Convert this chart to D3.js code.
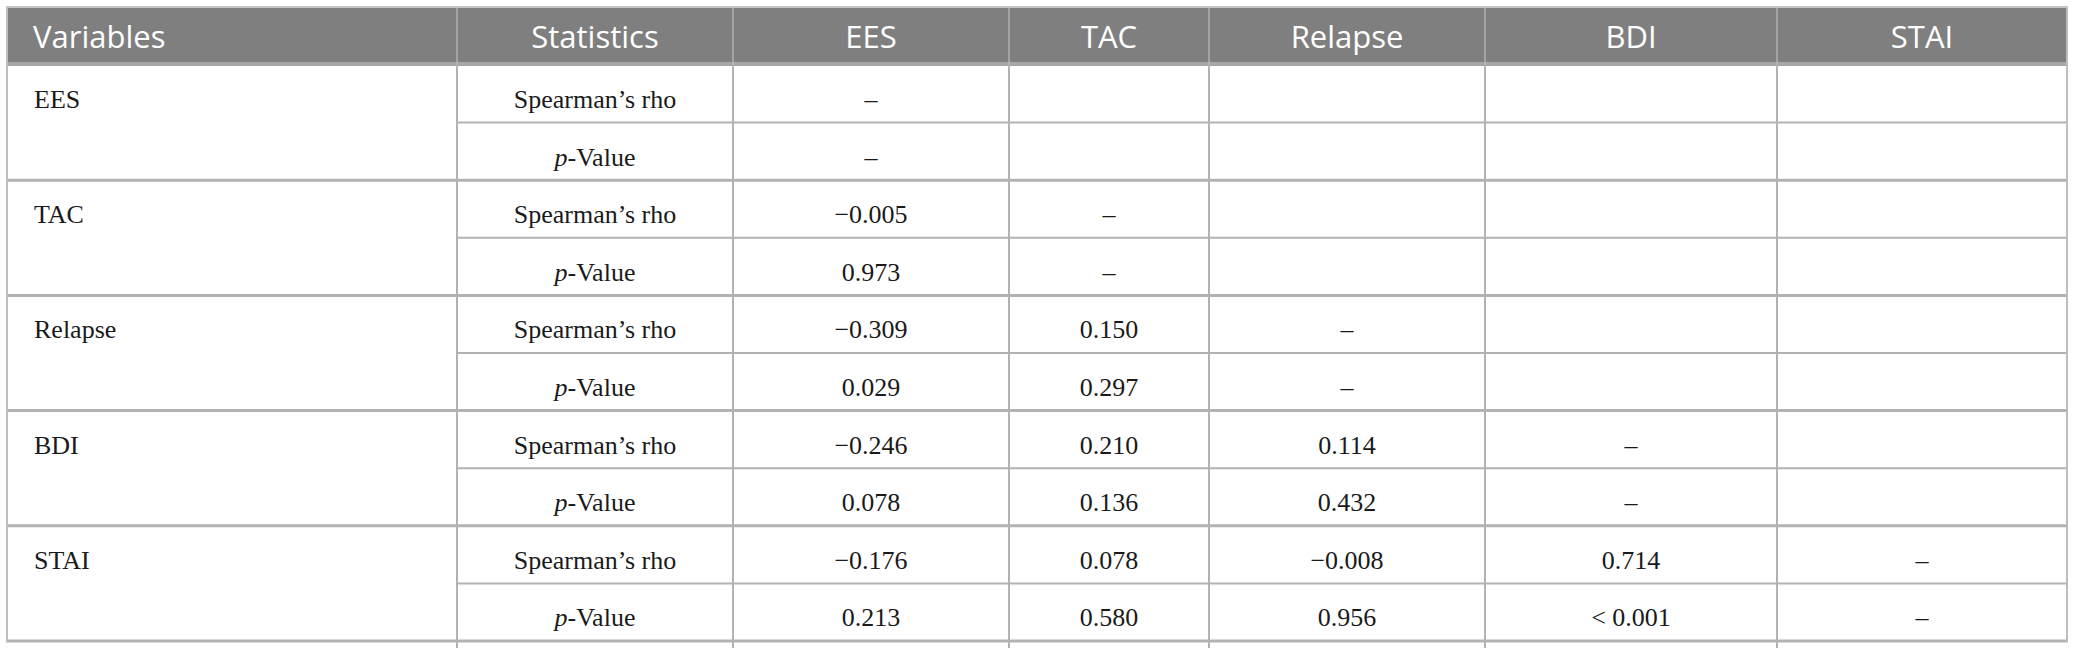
<!DOCTYPE html>
<html>
<head>
<script src="https://d3js.org/d3.v7.min.js" charset="utf-8"></script>
<style>
    body { margin: 0; background: #fff; }
</style>
</head>
<body>
<script>
    // table content
    var headers = ["Variables", "Statistics", "EES", "TAC", "Relapse", "BDI", "STAI"];
    var variables = ["EES", "TAC", "Relapse", "BDI", "STAI"];
    var statistics = ["Spearman\u2019s rho", "p-Value"];
    var rhoValues = [
        ["\u2013"],
        ["\u22120.005", "\u2013"],
        ["\u22120.309", "0.150", "\u2013"],
        ["\u22120.246", "0.210", "0.114", "\u2013"],
        ["\u22120.176", "0.078", "\u22120.008", "0.714", "\u2013"]
    ];
    var pValues = [
        ["\u2013"],
        ["0.973", "\u2013"],
        ["0.029", "0.297", "\u2013"],
        ["0.078", "0.136", "0.432", "\u2013"],
        ["0.213", "0.580", "0.956", "< 0.001", "\u2013"]
    ];

    // layout
    var wid = 2077, h = 650;
    var colEdges = [7, 457, 733, 1009, 1209, 1485, 1777, 2067];
    var headTop = 8, headBottom = 65, tableBottom = 641;
    var lineColor = "#b2b2b2";

    var svg = d3.select("body").append("svg")
        .attr("width", wid)
        .attr("height", h);

    var colX = d3.scaleOrdinal().domain(headers).range(colEdges.slice(0, 7));
    var colW = d3.scaleOrdinal().domain(headers).range(d3.pairs(colEdges).map(function(p) { return p[1] - p[0]; }));

    // one row per (variable, statistic)
    var rows = [];
    variables.forEach(function(v, i) {
        rows.push({ v: v, stat: statistics[0], vals: rhoValues[i], first: true });
        rows.push({ v: v, stat: statistics[1], vals: pValues[i], first: false });
    });
    var y = d3.scaleBand().domain(d3.range(rows.length)).range([headBottom, tableBottom]);

    // header
    svg.append("rect")
        .attr("x", colEdges[0]).attr("y", headTop)
        .attr("width", colEdges[7] - colEdges[0]).attr("height", headBottom - headTop)
        .attr("fill", "#7f7f7f");
    svg.append("line")
        .attr("x1", colEdges[0] - 1).attr("x2", colEdges[7] + 1)
        .attr("y1", headTop - 1).attr("y2", headTop - 1)
        .attr("stroke", "#c4c4c4").attr("stroke-width", 2);
    svg.append("rect")
        .attr("x", colEdges[0]).attr("y", headBottom - 3)
        .attr("width", colEdges[7] - colEdges[0]).attr("height", 4)
        .attr("fill", "#a6a6a6");

    svg.selectAll("text.head")
        .data(headers)
        .enter().append("text")
        .attr("class", "head")
        .attr("x", function(d, i) { return i === 0 ? colX(d) + 26 : colX(d) + colW(d) / 2; })
        .attr("y", 48)
        .attr("text-anchor", function(d, i) { return i === 0 ? "start" : "middle"; })
        .attr("font-family", "'Open Sans', sans-serif")
        .attr("font-size", 31)
        .attr("fill", "#fff")
        .text(function(d) { return d; });

    // horizontal rules
    svg.selectAll("line.row")
        .data(d3.range(1, rows.length + 1))
        .enter().append("line")
        .attr("class", "row")
        .attr("x1", function(d) { return d % 2 === 0 || d === rows.length ? colEdges[0] - 1 : colEdges[1]; })
        .attr("x2", colEdges[7] + 1)
        .attr("y1", function(d) { return y(d - 1) + y.bandwidth(); })
        .attr("y2", function(d) { return y(d - 1) + y.bandwidth(); })
        .attr("stroke", lineColor)
        .attr("stroke-width", function(d) { return d % 2 === 0 ? 3 : 2; });

    // vertical rules
    svg.selectAll("line.col")
        .data(colEdges)
        .enter().append("line")
        .attr("class", "col")
        .attr("x1", function(d) { return d; })
        .attr("x2", function(d) { return d; })
        .attr("y1", headTop)
        .attr("y2", function(d, i) { return i === 0 || i === 7 ? tableBottom + 1 : h - 2; })
        .attr("stroke", function(d, i) { return i === 0 || i === 7 ? "#bdbdbd" : lineColor; })
        .attr("stroke-width", 2);
    svg.selectAll("line.colhead")
        .data(colEdges.slice(1, 7))
        .enter().append("line")
        .attr("x1", function(d) { return d; })
        .attr("x2", function(d) { return d; })
        .attr("y1", headTop)
        .attr("y2", headBottom - 3)
        .attr("stroke", "#a3a3a3")
        .attr("stroke-width", 2);

    var body = svg.append("g")
        .attr("font-family", "'Liberation Serif', 'Times New Roman', serif")
        .attr("font-size", 26)
        .attr("fill", "#1a1a1a");

    // variable names
    body.selectAll("text.var")
        .data(rows.filter(function(r) { return r.first; }))
        .enter().append("text")
        .attr("x", colEdges[0] + 27)
        .attr("y", function(d, i) { return y(i * 2) + 43; })
        .text(function(d) { return d.v; });

    // statistics labels
    var stat = body.selectAll("text.stat")
        .data(rows)
        .enter().append("text")
        .attr("x", colX("Statistics") + colW("Statistics") / 2)
        .attr("y", function(d, i) { return y(i) + 43; })
        .attr("text-anchor", "middle");
    stat.each(function(d) {
        var t = d3.select(this);
        if (d.stat.indexOf("p-") === 0) {
            t.append("tspan").attr("font-style", "italic").text("p");
            t.append("tspan").text(d.stat.slice(1));
        } else {
            t.text(d.stat);
        }
    });

    // values
    rows.forEach(function(r, i) {
        body.selectAll(null)
            .data(r.vals)
            .enter().append("text")
            .attr("x", function(d, j) { var c = headers[j + 2]; return colX(c) + colW(c) / 2; })
            .attr("y", y(i) + 43)
            .attr("text-anchor", "middle")
            .text(function(d) { return d; });
    });
</script>
</body>
</html>
